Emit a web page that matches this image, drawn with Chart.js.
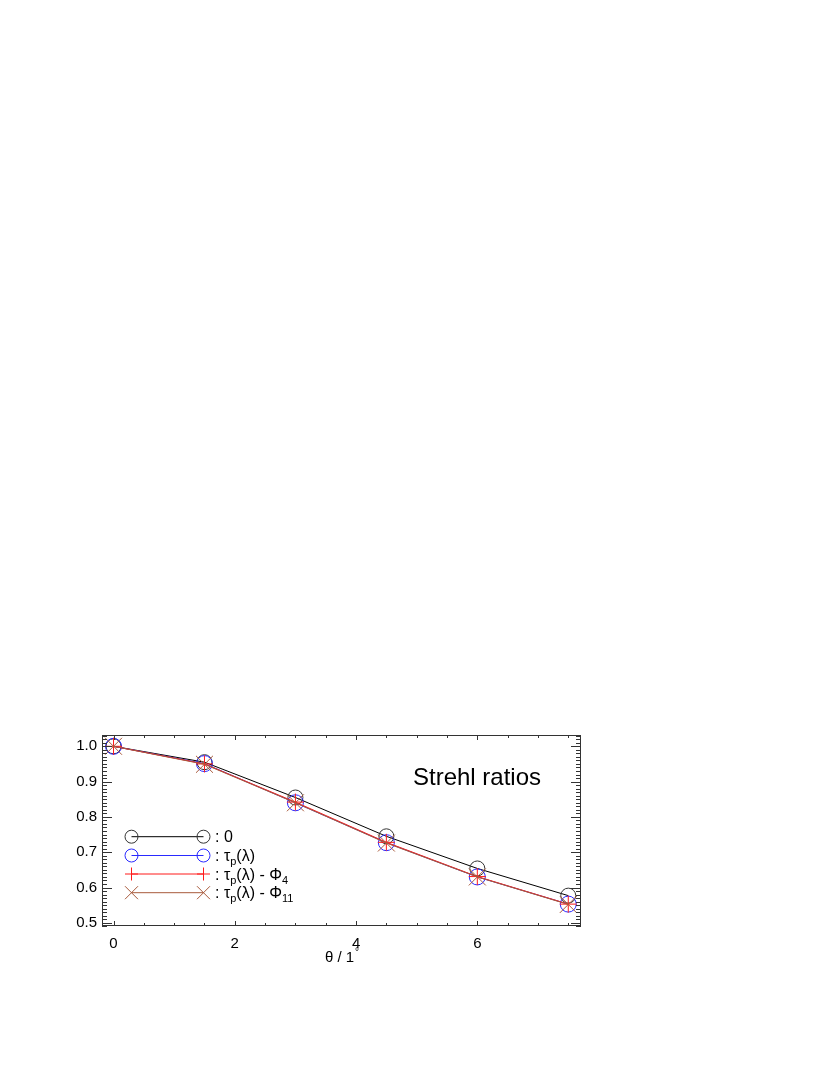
<!DOCTYPE html>
<html>
<head>
    <meta charset="utf-8">
    <script src="https://cdn.jsdelivr.net/npm/chart.js"></script>
    <style>
        body { margin: 0; background: #fff; }
        #wrap { position: absolute; left: 0; top: 0; width: 830px; height: 1075px; }
    </style>
</head>
<body>
    <div id="wrap"><canvas id="myChart"></canvas></div>

    <script>
        // valeurs
        var thetas = [0, 1.5, 3, 4.5, 6, 7.5];
        var strehlNone = [1.0, 0.955, 0.855, 0.745, 0.654, 0.577];
        var strehlTau = [1.0, 0.951, 0.840, 0.727, 0.630, 0.553];
        var strehlPhi4 = [1.0, 0.950, 0.842, 0.728, 0.631, 0.553];
        var strehlPhi11 = [1.0, 0.949, 0.840, 0.726, 0.630, 0.552];
        var xTicks = [0, 2, 4, 6];
        var yTicks = [0.5, 0.6, 0.7, 0.8, 0.9, 1.0];
        var legendLabels = [
            { main: ': 0', sub: '', tail: '', sub2: '' },
            { main: ': \u03c4', sub: 'p', tail: '(\u03bb)', sub2: '' },
            { main: ': \u03c4', sub: 'p', tail: '(\u03bb) - \u03a6', sub2: '4' },
            { main: ': \u03c4', sub: 'p', tail: '(\u03bb) - \u03a6', sub2: '11' }
        ];

        var font = 'Liberation Sans, Arial, Helvetica, sans-serif';
        var black = '#000000', blue = '#2a2aff', red = '#ff1a1a', brown = '#a85a3c';

        function pts(ys) {
            return thetas.map(function(t, i) { return { x: t, y: ys[i] }; });
        }

        // ticks vers l'intérieur sur les quatre côtés, style IDL
        var frameTicks = {
            id: 'frameTicks',
            afterDraw: function(chart) {
                var ctx = chart.ctx, a = chart.chartArea;
                var xs = chart.scales.x, ys = chart.scales.y;
                ctx.save();
                ctx.strokeStyle = '#333';
                ctx.lineWidth = 1;
                ctx.strokeRect(a.left + 0.5, a.top + 0.5, a.right - a.left - 1, a.bottom - a.top - 1);
                ctx.beginPath();
                for (var v = 0; v <= 7.5; v += 0.5) {
                    var px = Math.round(xs.getPixelForValue(v)) + 0.5;
                    var len = (v % 2 === 0) ? 5 : 3;
                    ctx.moveTo(px, a.bottom); ctx.lineTo(px, a.bottom - len);
                    ctx.moveTo(px, a.top); ctx.lineTo(px, a.top + len);
                }
                for (var k = 49; k <= 103; k++) {
                    var py = Math.round(ys.getPixelForValue(k / 100)) + 0.5;
                    var l2 = (k % 10 === 0) ? 10 : 5;
                    ctx.moveTo(a.left, py); ctx.lineTo(a.left + l2, py);
                    ctx.moveTo(a.right, py); ctx.lineTo(a.right - l2, py);
                }
                ctx.stroke();

                // titre dans le cadre
                ctx.fillStyle = '#000';
                ctx.font = '24px ' + font;
                ctx.textBaseline = 'alphabetic';
                ctx.fillText('Strehl ratios', 413, 785);

                // titre de l'axe x, avec le degré en exposant
                ctx.font = '15px ' + font;
                var t1 = '\u03b8 / 1';
                var w1 = ctx.measureText(t1).width;
                var cx = (a.left + a.right) / 2;
                ctx.fillText(t1, cx - w1 / 2 - 2, 962);
                ctx.font = '10px ' + font;
                ctx.fillText('\u00b0', cx + w1 / 2 - 1, 955);

                // légende
                var rows = [836.7, 855.5, 874, 892.7];
                var ds = chart.data.datasets;
                var lx0 = 131.5, lx1 = 203.5;
                for (var i = 0; i < rows.length; i++) {
                    var y = rows[i], d = ds[i];
                    ctx.strokeStyle = d.borderColor;
                    ctx.lineWidth = 1;
                    ctx.beginPath();
                    ctx.moveTo(lx0, y); ctx.lineTo(lx1, y);
                    ctx.stroke();
                    var o = { pointStyle: d.pointStyle, radius: d.legendRadius, rotation: 0, borderWidth: 1 };
                    ctx.strokeStyle = d.pointBorderColor;
                    ctx.fillStyle = 'rgba(0,0,0,0)';
                    Chart.helpers.drawPoint(ctx, o, lx0, y);
                    Chart.helpers.drawPoint(ctx, o, lx1, y);

                    var lab = legendLabels[i];
                    var tx = 215, base = y + 5.5;
                    ctx.fillStyle = '#000';
                    ctx.font = '16px ' + font;
                    ctx.fillText(lab.main, tx, base);
                    tx += ctx.measureText(lab.main).width;
                    if (lab.sub) {
                        ctx.font = '11px ' + font;
                        ctx.fillText(lab.sub, tx, base + 4);
                        tx += ctx.measureText(lab.sub).width;
                        ctx.font = '16px ' + font;
                        ctx.fillText(lab.tail, tx, base);
                        tx += ctx.measureText(lab.tail).width;
                    }
                    if (lab.sub2) {
                        ctx.font = '11px ' + font;
                        ctx.fillText(lab.sub2, tx, base + 4);
                    }
                }
                ctx.restore();
            }
        };

        var ctx = document.getElementById('myChart').getContext('2d');
        var chart = new Chart(ctx, {
            type: 'line',
            data: {
                datasets: [{
                    label: '0',
                    data: pts(strehlNone),
                    borderColor: black,
                    pointBorderColor: '#333',
                    pointStyle: 'circle',
                    pointRadius: 7.5,
                    legendRadius: 6.5,
                    order: 4
                },
                {
                    label: 'tau_p',
                    data: pts(strehlTau),
                    borderColor: blue,
                    pointBorderColor: blue,
                    pointStyle: 'circle',
                    pointRadius: 8,
                    legendRadius: 6.5,
                    order: 3
                },
                {
                    label: 'tau_p - Phi4',
                    data: pts(strehlPhi4),
                    borderColor: red,
                    pointBorderColor: red,
                    pointStyle: 'cross',
                    pointRadius: 8.5,
                    legendRadius: 6.5,
                    order: 2
                },
                {
                    label: 'tau_p - Phi11',
                    data: pts(strehlPhi11),
                    borderColor: brown,
                    pointBorderColor: brown,
                    pointStyle: 'crossRot',
                    pointRadius: 12,
                    legendRadius: 9.2,
                    order: 1
                }]
            },
            options: {
                responsive: true,
                maintainAspectRatio: false,
                animation: false,
                devicePixelRatio: 1,
                layout: { padding: { left: 62, top: 735, right: 249, bottom: 109 } },
                elements: {
                    line: { borderWidth: 1, tension: 0, fill: false },
                    point: { borderWidth: 1, backgroundColor: 'rgba(0,0,0,0)', hoverRadius: 8 }
                },
                plugins: { legend: { display: false }, tooltip: { enabled: false } },
                scales: {
                    x: {
                        type: 'linear',
                        min: -0.19,
                        max: 7.71,
                        afterFit: function(s) { s.height = 40; },
                        afterBuildTicks: function(s) { s.ticks = xTicks.map(function(v) { return { value: v }; }); },
                        grid: { display: false, drawTicks: false },
                        border: { display: false },
                        ticks: { color: '#000', padding: 9, maxRotation: 0, font: { family: font, size: 15 } }
                    },
                    y: {
                        min: 0.491,
                        max: 1.032,
                        afterFit: function(s) { s.width = 40; },
                        afterBuildTicks: function(s) { s.ticks = yTicks.map(function(v) { return { value: v }; }); },
                        grid: { display: false, drawTicks: false },
                        border: { display: false },
                        ticks: {
                            color: '#000', padding: 5, font: { family: font, size: 15 },
                            callback: function(v) { return v.toFixed(1); }
                        }
                    }
                }
            },
            plugins: [frameTicks]
        });
    </script>
</body>
</html>
